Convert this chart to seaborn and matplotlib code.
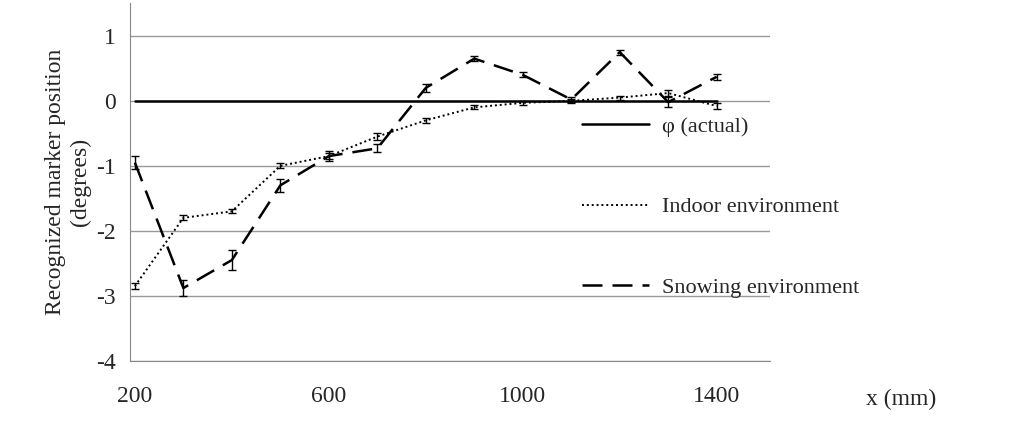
import matplotlib
matplotlib.use("Agg")
import matplotlib.pyplot as plt
import seaborn as sns
import pandas as pd
import numpy as np

x_mm = [200, 300, 400, 500, 600, 700, 800, 900, 1000, 1100, 1200, 1300, 1400]
indoor = [-2.85, -1.8, -1.7, -1.0, -0.85, -0.55, -0.3, -0.1, -0.03, 0.0, 0.05, 0.12, -0.08]
indoor_err = [0.05, 0.04, 0.03, 0.04, 0.04, 0.05, 0.04, 0.03, 0.03, 0.03, 0.03, 0.05, 0.04]
snow = [-0.95, -2.88, -2.45, -1.3, -0.85, -0.73, 0.2, 0.65, 0.4, 0.02, 0.75, -0.02, 0.37]
snow_err = [0.1, 0.12, 0.15, 0.1, 0.08, 0.06, 0.06, 0.04, 0.04, 0.04, 0.04, 0.08, 0.05]
actual = [0.0] * len(x_mm)
xticks = [200, 600, 1000, 1400]

sns.set_style("white")
plt.rcParams['font.family'] = ['Liberation Serif', 'DejaVu Serif']

fig = plt.figure(figsize=(10.24, 4.22), dpi=100)
ax = fig.add_axes([0.127, 0.145, 0.625, 0.847])

df = pd.DataFrame({"x": x_mm, "actual": actual, "indoor": indoor, "snow": snow})
sns.lineplot(data=df, x="x", y="actual", ax=ax, color="black", lw=1.8, label="φ (actual)")
sns.lineplot(data=df, x="x", y="indoor", ax=ax, color="black", lw=1.4, ls=(0, (1, 1.5)), label="Indoor environment")
sns.lineplot(data=df, x="x", y="snow", ax=ax, color="black", lw=1.8, ls=(0, (8, 4)), label="Snowing environment")
ax.errorbar(x_mm, indoor, yerr=indoor_err, fmt="none", ecolor="black", capsize=3, lw=1)
ax.errorbar(x_mm, snow, yerr=snow_err, fmt="none", ecolor="black", capsize=3, lw=1)

ax.set_xlim(190, 1510)
ax.set_ylim(-4, 1.5)
ax.set_yticks([-4, -3, -2, -1, 0, 1])
ax.set_yticklabels(["-4", "-3", "-2", "-1", "0", "1"])
ax.set_xticks(xticks)
ax.tick_params(labelsize=17, length=0)
ax.tick_params(axis="x", pad=18)
ax.tick_params(axis="y", pad=10)
ax.grid(axis="y", color="#999999", lw=1)
for s in ["top", "right"]:
    ax.spines[s].set_visible(False)
ax.spines["left"].set_color("#888888")
ax.spines["bottom"].set_color("#888888")
ax.set_xlabel("")
ax.set_ylabel("Recognized marker position\n(degrees)", fontsize=17)
fig.text(0.88, 0.04, "x (mm)", fontsize=17, ha="center")
leg = ax.legend(loc="center left", bbox_to_anchor=(0.675, 0.43), frameon=False, fontsize=16,
                handlelength=3.0, handletextpad=0.6, labelspacing=2.7)
fig.savefig("out.png", dpi=100)
